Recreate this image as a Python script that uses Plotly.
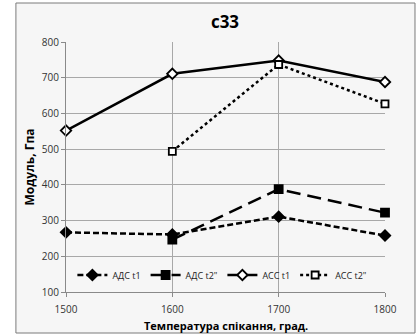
import plotly.graph_objects as go

temps = [1500, 1600, 1700, 1800]
ads_t1 = [267, 261, 311, 258]
ads_t2 = [None, 247, 388, 322]
acc_t1 = [552, 711, 748, 688]
acc_t2 = [None, 494, 737, 627]

series = [
    ("АДС t1", ads_t1, "6px,3px", "diamond", "black", 8),
    ("АДС t2\"", ads_t2, "14px,7px", "square", "black", 8),
    ("АСС t1", acc_t1, "solid", "diamond", "white", 8),
    ("АСС t2\"", acc_t2, "dot", "square", "white", 7),
]

fig = go.Figure()
for name, vals, dash, sym, fill, size in series:
    fig.add_trace(go.Scatter(
        x=temps, y=vals, name=name, mode="lines+markers",
        line=dict(color="black", width=2.5, dash=dash),
        marker=dict(symbol=sym, size=size, color=fill, line=dict(color="black", width=1.8)),
        connectgaps=False, cliponaxis=False,
    ))

font = "Open Sans"
fig.update_layout(
    width=417, height=335,
    margin=dict(l=66, r=32, t=42, b=43),
    paper_bgcolor="white",
    plot_bgcolor="rgba(0,0,0,0)",
    font=dict(family=font, size=10, color="#333"),
    title=dict(text="<b>c33</b>", x=225 / 417, xanchor="center",
               y=1 - 22 / 335, yanchor="middle", font=dict(size=17, color="black")),
    showlegend=True,
    legend=dict(orientation="h", x=0.02, y=0.068, xanchor="left", yanchor="middle",
                bgcolor="rgba(0,0,0,0)", font=dict(size=9, color="#222"),
                itemwidth=30, tracegroupgap=0),
    shapes=[dict(type="rect", xref="paper", yref="paper", layer="below",
                 x0=-0.157, x1=1.094, y0=-0.164, y1=1.156,
                 fillcolor="#f6f6f6", line=dict(color="#7a7a7a", width=1))],
    annotations=[dict(text="<b>Температура спікання, град.</b>", xref="paper", yref="paper",
                      x=0.5, y=-0.132, xanchor="center", yanchor="middle", showarrow=False,
                      font=dict(size=11, color="black"))],
)
fig.update_xaxes(range=[1500, 1800], tickvals=temps, showgrid=True, gridcolor="#a8a8a8",
                 gridwidth=1, ticks="outside", ticklen=4, tickcolor="#8a8a8a",
                 ticklabelstandoff=4, automargin=False,
                 showline=True, linecolor="#8a8a8a", zeroline=False)
fig.update_yaxes(range=[100, 800], dtick=100, showgrid=True, gridcolor="#a8a8a8",
                 gridwidth=1, ticks="outside", ticklen=4, tickcolor="#8a8a8a",
                 automargin=False,
                 showline=True, linecolor="#8a8a8a", zeroline=False,
                 title=dict(text="<b>Модуль, Гпа</b>", standoff=4,
                            font=dict(size=12, color="black")))

fig.write_html("out.html")
